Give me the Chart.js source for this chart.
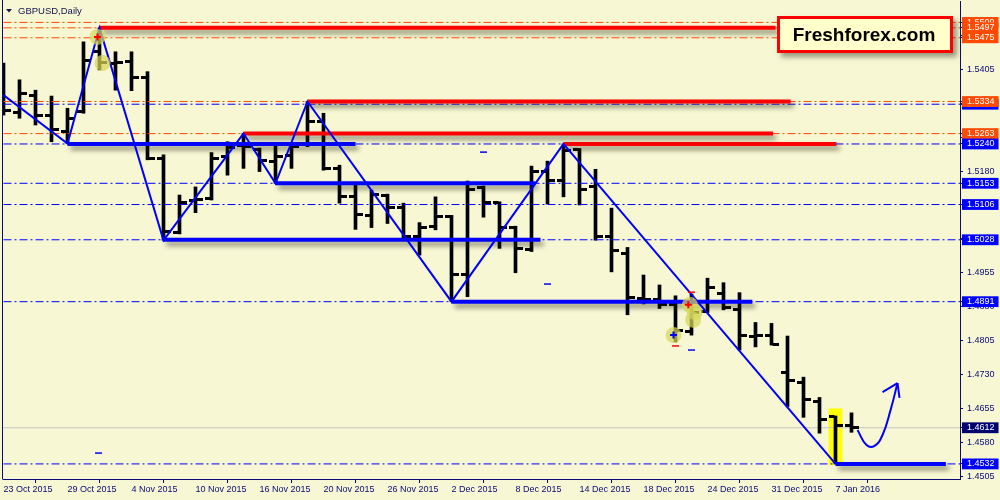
<!DOCTYPE html>
<html><head><meta charset="utf-8">
<script src="https://cdn.jsdelivr.net/npm/chart.js@4.4.1/dist/chart.umd.min.js"></script>
<style>html,body{margin:0;padding:0;background:#f7f7d4;}canvas{display:block;}</style>
</head><body>
<canvas id="c" width="1000" height="500"></canvas>
<script>
// ---------- data ----------
const dateLabels = ['23 Oct 2015','29 Oct 2015','4 Nov 2015','10 Nov 2015','16 Nov 2015','20 Nov 2015','26 Nov 2015','2 Dec 2015','8 Dec 2015','14 Dec 2015','18 Dec 2015','24 Dec 2015','31 Dec 2015','7 Jan 2016'];
const dateLabelIdx = [0,4,8,12,16,20,24,28,32,36,40,44,48,52];
const open  = [1.5408,1.5309,1.5348,1.5302,1.5267,1.5311,1.5444,1.5418,1.5422,1.5388,1.5208,1.5044,1.5114,1.5120,1.5212,1.5236,1.5228,1.5202,1.5214,1.5238,1.5289,1.5186,1.5123,1.5081,1.5127,1.5099,1.5035,1.5057,1.5079,1.4952,1.5144,1.5110,1.5055,1.5007,1.5179,1.5159,1.5227,1.5145,1.5036,1.4998,1.4897,1.4895,1.4884,1.4825,1.4869,1.4910,1.4874,1.4815,1.4816,1.4734,1.4713,1.4670,1.4636,1.4616];
const high  = [1.5419,1.5382,1.5359,1.5346,1.5319,1.5466,1.5497,1.5444,1.5444,1.5400,1.5216,1.5127,1.5145,1.5221,1.5245,1.5263,1.5231,1.5238,1.5238,1.5334,1.5308,1.5193,1.5149,1.5138,1.5129,1.5109,1.5066,1.5123,1.5082,1.5158,1.5147,1.5112,1.5058,1.5191,1.5202,1.5240,1.5230,1.5184,1.5098,1.5011,1.4950,1.4928,1.4904,1.4908,1.4943,1.4933,1.4911,1.4845,1.4843,1.4815,1.4724,1.4679,1.4638,1.4645];
const low   = [1.5304,1.5297,1.5282,1.5245,1.5241,1.5308,1.5404,1.5359,1.5358,1.5205,1.5027,1.5041,1.5088,1.5116,1.5171,1.5186,1.5179,1.5153,1.5186,1.5234,1.5182,1.5109,1.5051,1.5055,1.5064,1.5031,1.4994,1.5050,1.4891,1.4902,1.5078,1.5009,1.4955,1.5002,1.5107,1.5123,1.5105,1.5027,1.4957,1.4862,1.4886,1.4876,1.4802,1.4817,1.4867,1.4873,1.4784,1.4791,1.4795,1.4659,1.4635,1.4600,1.4532,1.4602];
const close = [1.5315,1.5351,1.5304,1.5271,1.5297,1.5424,1.5421,1.5420,1.5388,1.5208,1.5046,1.5110,1.5118,1.5208,1.5233,1.5234,1.5203,1.5212,1.5234,1.5289,1.5186,1.5123,1.5083,1.5129,1.5099,1.5036,1.5055,1.5079,1.4952,1.5140,1.5110,1.5055,1.5008,1.5179,1.5160,1.5225,1.5140,1.5036,1.5004,1.4900,1.4895,1.4884,1.4827,1.4867,1.4922,1.4878,1.4816,1.4816,1.4797,1.4716,1.4675,1.4631,1.4616,1.4612];

const zigzagIdx = [0,4,6,10,15,17,19,28,35,52];
const zigzagVal = [1.5348,1.5241,1.5497,1.5027,1.5263,1.5153,1.5334,1.4891,1.5240,1.4532];

const orangeLevels = [1.5509,1.5497,1.5475,1.5334,1.5263];
const blueLevels   = [1.5328,1.5240,1.5153,1.5106,1.5028,1.4891,1.4532];
const bidPrice = 1.4612;

const redSegLevel = [1.5497,1.5334,1.5263,1.5240];
const redSegFrom  = [6,19,15,35];
const redSegTo    = [48.25,49.2,48.1,52.06];
const blueSegLevel = [1.5240,1.5153,1.5028,1.4891,1.4532];
const blueSegFrom  = [4,17,10,28,52];
const blueSegTo    = [22,33.25,33.56,46.8,58.9];

const highlightIdx = 52;
const highlightRange = [1.4530,1.4654];

const circleIdx = [5.875,6.19,41.875,42.9,43.2,43.1];
const circleVal = [1.5477,1.5419,1.4817,1.4884,1.4868,1.4851];
const redCrossIdx = [5.875,42.8];
const redCrossVal = [1.5477,1.4884];
const blueCrossIdx = [41.875];
const blueCrossVal = [1.4817];
const blueDashIdx = [5.94,30,34,43];
const blueDashVal = [1.4556,1.5222,1.4930,1.4784];
const redDashIdx = [42,43];
const redDashVal = [1.4793,1.4912];

const forecastIdx = [53.375,53.94,54.44,54.94,55.44,55.875];
const forecastVal = [1.4607,1.4574,1.4572,1.4596,1.4651,1.4711];
const arrowBarbIdx = [54.94,56.0];
const arrowBarbVal = [1.4691,1.4678];

const axisTicks   = [1.5405,1.5180,1.4955,1.4880,1.4805,1.4730,1.4655,1.4580,1.4505];
const hiddenTicks = [1.5480,1.5330,1.5255,1.5105,1.5030];

// ---------- styling ----------
const NAVY = '#0a0a78';
const ORANGE = '#ff4a00';
const BLUE = '#0000ff';
const RED = '#ff0000';
const FONT = 'Liberation Sans';
const Y_MIN = 1.44986, Y_MAX = 1.55564;
const X_MIN = -0.03125, X_MAX = 59.78125;

function tickCanvas(side){
  const c = document.createElement('canvas'); c.width = 14; c.height = 3;
  const g = c.getContext('2d'); g.fillStyle = '#000';
  if (side < 0) g.fillRect(0,0,6,3); else g.fillRect(8,0,6,3);
  return c;
}
const leftTick = tickCanvas(-1), rightTick = tickCanvas(1);

const tagInfo = {};
blueLevels.forEach(v => tagInfo[v.toFixed(4)] = BLUE);
orangeLevels.forEach(v => tagInfo[v.toFixed(4)] = ORANGE);
tagInfo[bidPrice.toFixed(4)] = '#000070';

const datasets = [];
datasets.push({type:'bar', data:[{x:highlightIdx, y:highlightRange}], backgroundColor:'#ffff00', barThickness:13, grouped:false, order:100});
datasets.push({type:'line', data:[{x:-1,y:bidPrice},{x:61,y:bidPrice}], borderColor:'#c4c4c4', borderWidth:1, pointRadius:0, order:95});
datasets.push({type:'bar', data: high.map((h,i)=>({x:i, y:[low[i], h]})), backgroundColor:'#000', barThickness:3, grouped:false, order:90});
datasets.push({type:'scatter', data: open.map((v,i)=>({x:i,y:v})), pointStyle:leftTick, pointRadius:7, order:89});
datasets.push({type:'scatter', data: close.map((v,i)=>({x:i,y:v})), pointStyle:rightTick, pointRadius:7, order:88});
blueLevels.forEach(v => datasets.push({type:'line', data:[{x:-1,y:v},{x:61,y:v}], borderColor:BLUE, borderWidth:1, borderDash:[8,3,2,3], pointRadius:0, order:81}));
orangeLevels.forEach(v => datasets.push({type:'line', data:[{x:-1,y:v},{x:61,y:v}], borderColor:ORANGE, borderWidth:1, borderDash:[8,3,2,3], pointRadius:0, order:80}));
redSegLevel.forEach((v,k) => datasets.push({type:'line', data:[{x:redSegFrom[k],y:v},{x:redSegTo[k],y:v}], borderColor:RED, borderWidth:4, pointRadius:0, shadow:true, order:70}));
blueSegLevel.forEach((v,k) => datasets.push({type:'line', data:[{x:blueSegFrom[k],y:v},{x:blueSegTo[k],y:v}], borderColor:BLUE, borderWidth:4, pointRadius:0, shadow:true, order:70}));
datasets.push({type:'line', data: zigzagIdx.map((x,k)=>({x, y:zigzagVal[k]})), borderColor:BLUE, borderWidth:2, pointRadius:0, tension:0, order:60});
datasets.push({type:'scatter', data: circleIdx.map((x,k)=>({x,y:circleVal[k]})), pointStyle:'circle', pointRadius:8, backgroundColor:'rgba(214,214,90,0.72)', borderWidth:0, order:50});
datasets.push({type:'scatter', data: redCrossIdx.map((x,k)=>({x,y:redCrossVal[k]})), pointStyle:'cross', pointRadius:3.5, borderColor:RED, borderWidth:2, order:45});
datasets.push({type:'scatter', data: blueCrossIdx.map((x,k)=>({x,y:blueCrossVal[k]})), pointStyle:'cross', pointRadius:3.5, borderColor:BLUE, borderWidth:2, order:45});
datasets.push({type:'scatter', data: blueDashIdx.map((x,k)=>({x,y:blueDashVal[k]})), pointStyle:'line', pointRadius:3.5, borderColor:BLUE, borderWidth:1.5, order:44});
datasets.push({type:'scatter', data: redDashIdx.map((x,k)=>({x,y:redDashVal[k]})), pointStyle:'line', pointRadius:3.5, borderColor:RED, borderWidth:1.5, order:44});
datasets.push({type:'line', data: forecastIdx.map((x,k)=>({x,y:forecastVal[k]})), borderColor:BLUE, borderWidth:2, pointRadius:0, tension:0.45, order:30});
arrowBarbIdx.forEach((x,k)=> datasets.push({type:'line', data:[{x:forecastIdx[forecastIdx.length-1], y:forecastVal[forecastVal.length-1]},{x, y:arrowBarbVal[k]}], borderColor:BLUE, borderWidth:2, pointRadius:0, order:30}));

const shadowPlugin = {
  id:'shadow',
  beforeDatasetDraw(chart, args){
    const ds = chart.data.datasets[args.index];
    if (ds.shadow){ const c = chart.ctx; c.save(); c.shadowColor='rgba(40,40,20,0.55)'; c.shadowBlur=5; c.shadowOffsetX=3; c.shadowOffsetY=4; }
  },
  afterDatasetDraw(chart, args){
    const ds = chart.data.datasets[args.index];
    if (ds.shadow) chart.ctx.restore();
  }
};
const decorPlugin = {
  id:'decor',
  afterDraw(chart){
    const c = chart.ctx, a = chart.chartArea;
    c.save();
    c.strokeStyle = NAVY; c.lineWidth = 1;
    c.beginPath(); c.moveTo(a.left-0.5, 0); c.lineTo(a.left-0.5, a.bottom+0.5); c.stroke();
    c.fillStyle = '#141450';
    c.beginPath(); c.moveTo(6,9); c.lineTo(12,9); c.lineTo(9,12.5); c.closePath(); c.fill();
    c.font = '9.5px "' + FONT + '"'; c.textBaseline = 'middle'; c.textAlign = 'left';
    c.fillText('GBPUSD,Daily', 18, 11);
    c.shadowColor = 'rgba(60,60,40,0.5)'; c.shadowBlur = 5; c.shadowOffsetX = 4; c.shadowOffsetY = 4;
    c.fillStyle = '#ffffcc'; c.fillRect(777, 16, 176, 37);
    c.shadowColor = 'transparent';
    c.strokeStyle = RED; c.lineWidth = 3; c.strokeRect(778.5, 17.5, 173, 34);
    c.fillStyle = '#000'; c.font = 'bold 19px "' + FONT + '"'; c.textAlign = 'center'; c.textBaseline = 'middle';
    c.fillText('Freshforex.com', 864, 36);
    c.restore();
  }
};

new Chart(document.getElementById('c'), {
  type:'bar',
  data:{datasets},
  options:{
    responsive:false, animation:false, events:[],
    devicePixelRatio:1,
    layout:{autoPadding:false, padding:{left:3, top:1, right:0, bottom:0}},
    plugins:{legend:{display:false}, tooltip:{enabled:false}},
    scales:{
      x:{type:'linear', position:'bottom', min:X_MIN, max:X_MAX, offset:false,
        grid:{drawOnChartArea:false, drawTicks:true, tickLength:4, color:NAVY},
        border:{display:true, color:NAVY, width:1},
        ticks:{autoSkip:false, maxRotation:0, minRotation:0, align:'start', padding:1, color:NAVY,
          font:{family:FONT, size:9}, callback:(v,i)=>dateLabels[i]},
        afterBuildTicks:s=>{ s.ticks = dateLabelIdx.map(v=>({value:v})); },
        afterFit:s=>{ s.height = 21; s.paddingLeft = 0; s.paddingRight = 0; }
      },
      y:{type:'linear', position:'right', min:Y_MIN, max:Y_MAX,
        grid:{drawOnChartArea:false, drawTicks:true, tickLength:3, color:NAVY},
        border:{display:true, color:NAVY, width:1},
        ticks:{autoSkip:false, padding:4, font:{family:FONT, size:9},
          callback:v=>Number(v).toFixed(4),
          color:ctx=> tagInfo[ctx.tick.value.toFixed(4)] ? '#ffffff' : NAVY,
          showLabelBackdrop:true,
          backdropColor:ctx=> tagInfo[ctx.tick.value.toFixed(4)] || 'rgba(0,0,0,0)',
          backdropPadding:{left:5, right:4, top:0, bottom:0}},
        afterBuildTicks:s=>{
          const list = hiddenTicks.concat(axisTicks, [1.5328], orangeLevels, blueLevels.slice(1), [bidPrice]);
          s.ticks = list.map(v=>({value:v}));
        },
        afterFit:s=>{ s.width = 40; s.paddingTop = 0; s.paddingBottom = 0; }
      }
    }
  },
  plugins:[shadowPlugin, decorPlugin]
});
</script>
</body></html>
